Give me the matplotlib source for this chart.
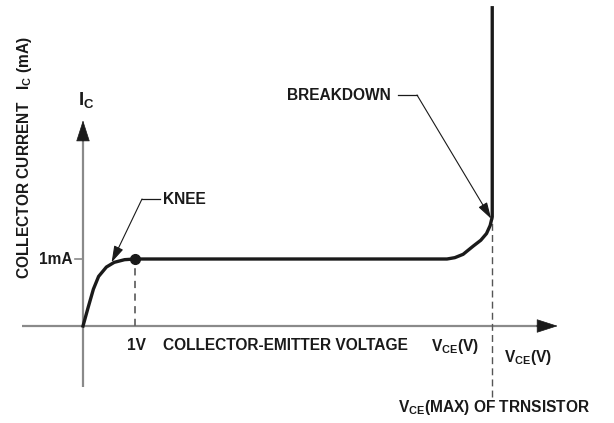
import numpy as np
import matplotlib
matplotlib.use("Agg")
import matplotlib.pyplot as plt
from matplotlib.lines import Line2D

plt.rcParams['font.family'] = ['Liberation Sans', 'DejaVu Sans']
plt.rcParams['font.weight'] = 'bold'
plt.rcParams['mathtext.fontset'] = 'custom'
plt.rcParams['mathtext.rm'] = 'Liberation Sans:bold'
plt.rcParams['mathtext.it'] = 'Liberation Sans:bold'
plt.rcParams['mathtext.bf'] = 'Liberation Sans:bold'

# Characteristic curve (V in volts, I in mA)
knee_v = [0.0, 0.1, 0.2, 0.3, 0.45, 0.6, 0.8, 1.0]
knee_i = [0.0, 0.28, 0.55, 0.74, 0.88, 0.95, 0.99, 1.0]
flat_v = [7.0]
flat_i = [1.0]
bend_v = [7.15, 7.31, 7.5, 7.65, 7.76, 7.83, 7.87]
bend_i = [1.02, 1.07, 1.19, 1.28, 1.38, 1.5, 1.63]
vmax = 7.87
top_i = 4.75

curve_v = knee_v + flat_v + bend_v + [vmax]
curve_i = knee_i + flat_i + bend_i + [top_i]

knee_pt = (1.0, 1.0)        # marked point at 1V / 1mA
knee_arrow = (0.55, 0.95)
break_pt = (7.85, 1.6)

# pixel layout of the sketch: origin pixel and scale
W, H = 614, 423
ox, oy = 83, 326
px_v, px_ma = 52.0, 67.0


def fp(x, y):
    # pixel position -> figure fraction
    return x / W, 1 - y / H


fig = plt.figure(figsize=(6.14, 4.23), dpi=100)
ax = fig.add_axes([0, 0, 1, 1])
ax.set_xlim(-ox / px_v, (W - ox) / px_v)
ax.set_ylim(-(H - oy) / px_ma, oy / px_ma)
ax.axis('off')

gray = '#8a8a8a'
ink = '#1a1a1a'

# axes with arrow heads
ax.plot([-1.17, 8.8], [0, 0], color=gray, lw=1.6, solid_capstyle='butt')
ax.plot([0, 0], [-0.91, 2.85], color=gray, lw=1.6, solid_capstyle='butt')
ax.annotate('', xy=(9.13, 0), xytext=(8.72, 0),
            arrowprops=dict(arrowstyle='-|>,head_length=1.4,head_width=0.45',
                            color=ink, lw=0.5, shrinkA=0, shrinkB=0))
ax.annotate('', xy=(0, 3.07), xytext=(0, 2.76),
            arrowprops=dict(arrowstyle='-|>,head_length=1.4,head_width=0.45',
                            color=ink, lw=0.5, shrinkA=0, shrinkB=0))

# 1mA tick
ax.plot([-0.16, 0], [1.0, 1.0], color=gray, lw=1.2)

# dashed guides
ax.plot([knee_pt[0], knee_pt[0]], [0, knee_pt[1]], color='#666666', lw=1.3,
        dashes=(4, 3))
ax.plot([vmax, vmax], [-1.06, 1.63], color='#555555', lw=1.0, dashes=(5, 3))

# curve
ax.plot(curve_v, curve_i, color=ink, lw=2.4, solid_joinstyle='round')
ax.plot([knee_pt[0]], [knee_pt[1]], 'o', color=ink, ms=7)

# leaders
fig.add_artist(Line2D([fp(160, 199)[0], fp(142, 199)[0]],
                      [fp(160, 199)[1], fp(142, 199)[1]], color=ink, lw=0.9))
ax.annotate('', xy=knee_arrow, xytext=fp(142, 199), textcoords='figure fraction',
            arrowprops=dict(arrowstyle='-|>,head_length=1.0,head_width=0.3',
                            color=ink, lw=0.8, shrinkA=0, shrinkB=0))
fig.add_artist(Line2D([fp(398, 95)[0], fp(417, 95)[0]],
                      [fp(398, 95)[1], fp(417, 95)[1]], color=ink, lw=0.9))
ax.annotate('', xy=break_pt, xytext=fp(417, 95), textcoords='figure fraction',
            arrowprops=dict(arrowstyle='-|>,head_length=1.0,head_width=0.3',
                            color=ink, lw=0.8, shrinkA=0, shrinkB=0))

fs = 11.2
tf = dict(transform=fig.transFigure, color=ink, fontsize=fs, fontweight='bold')
fig.text(*fp(163, 199), 'KNEE', ha='left', va='center', **tf)
fig.text(*fp(287, 96), 'BREAKDOWN', ha='left', va='center', **tf)
fig.text(*fp(73, 259), '1mA', ha='right', va='center', **tf)
fig.text(*fp(137, 345), '1V', ha='center', va='center', **tf)
fig.text(*fp(163, 345), 'COLLECTOR-EMITTER VOLTAGE', ha='left', va='center', **tf)
fig.text(*fp(431, 347), r'V$_{\rm CE}$(V)', ha='left', va='center', **tf)
fig.text(*fp(504, 357), r'V$_{\rm CE}$(V)', ha='left', va='center', **tf)
fig.text(*fp(398, 407), r'V$_{\rm CE}$(MAX) OF TRNSISTOR', ha='left', va='center', **tf)
fig.text(*fp(78, 100), r'I$_{\rm C}$', ha='left', va='center',
         transform=fig.transFigure, color=ink, fontsize=13.5, fontweight='bold')
fig.text(*fp(25, 157), r'COLLECTOR CURRENT   I$_{\rm C}$ (mA)', ha='center', va='center',
         rotation=90, **tf)

fig.savefig('out.png', dpi=100, facecolor='white')
